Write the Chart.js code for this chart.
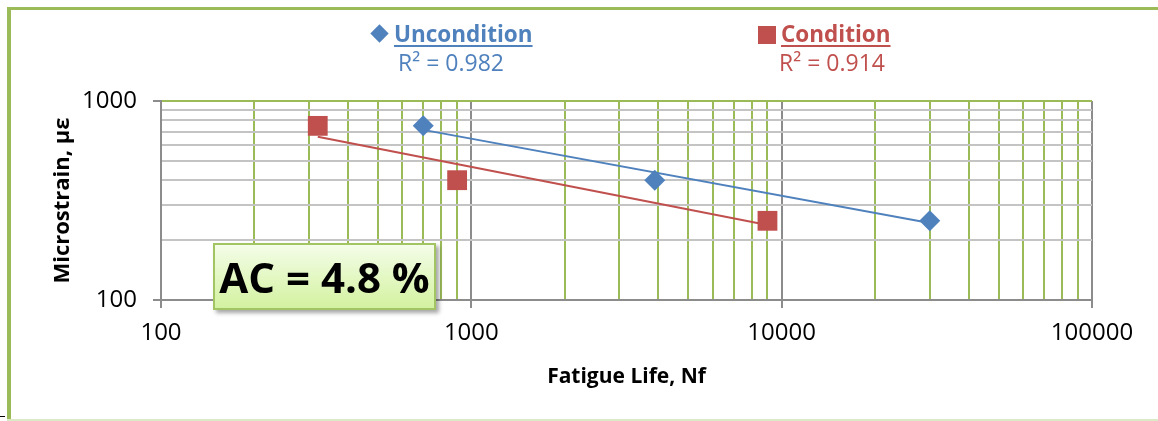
<!DOCTYPE html>
<html><head><meta charset="utf-8">
<script src="https://cdn.jsdelivr.net/npm/chart.js@4.4.1/dist/chart.umd.min.js"></script>
<style>
html,body{margin:0;padding:0;background:#fff;}
#wrap{position:relative;width:1158px;height:421px;overflow:hidden;font-family:"Open Sans",sans-serif;}
#c{position:absolute;left:0;top:0;}
.fr{position:absolute;background:#9bbb59;}
.txt{position:absolute;white-space:nowrap;line-height:1;}
.lgt{font-weight:bold;font-size:22.5px;text-decoration:underline;text-decoration-thickness:2px;text-underline-offset:3px;}
.r2{font-size:23px;}
#ac{position:absolute;left:213px;top:243px;width:219px;height:63px;border:2px solid #a3c463;
 background:linear-gradient(#f4fde8,#d3f2a0);box-shadow:3px 3px 4px rgba(0,0,0,0.35);
 display:flex;align-items:center;justify-content:center;font-weight:bold;font-size:42px;line-height:1;color:#000;}
</style></head>
<body><div id="wrap">
<canvas id="c" width="1158" height="421"></canvas>
<div class="fr" style="left:7px;top:7px;width:1151px;height:3px;"></div>
<div class="fr" style="left:7px;top:7px;width:4px;height:414px;"></div>
<div style="position:absolute;left:7px;top:419px;width:1151px;height:2px;background:#dbe9c6;"></div>
<div style="position:absolute;left:0;top:416px;width:5px;height:1px;background:#000;"></div>
<div style="position:absolute;left:373px;top:27px;width:13px;height:13px;background:#4f81bd;transform:rotate(45deg);"></div>
<div class="txt lgt" style="left:394px;top:23px;color:#4f81bd;">Uncondition</div>
<div class="txt r2" style="left:398px;top:51px;color:#4f81bd;">R² = 0.982</div>
<div style="position:absolute;left:758px;top:26px;width:18px;height:18px;background:#c0504d;"></div>
<div class="txt lgt" style="left:781px;top:23px;color:#c0504d;">Condition</div>
<div class="txt r2" style="left:779px;top:51px;color:#c0504d;">R² = 0.914</div>
<div id="ac">AC = 4.8 %</div>
</div>
<script>
const uncondLife = [700, 3900, 30000];
const uncondStrain = [750, 400, 250];
const condLife = [320, 900, 9000];
const condStrain = [750, 400, 250];
const uncondTrendLife = [700, 30000];
const uncondTrendStrain = [716, 244];
const condTrendLife = [320, 9000];
const condTrendStrain = [661, 238];
const xMajorTicks = [100, 1000, 10000, 100000];
const xTickLabels = ['100', '1000', '10000', '100000'];
const xMinorTicks = [200,300,400,500,600,700,800,900,2000,3000,4000,5000,6000,7000,8000,9000,20000,30000,40000,50000,60000,70000,80000,90000];
const yMajorTicks = [100, 1000];
const yTickLabels = ['100', '1000'];
const yMinorTicks = [200,300,400,500,600,700,800,900];

const BLUE = '#4f81bd', RED = '#c0504d', GREEN = '#9bbb59', AXIS = '#8c8c8c', HGRID = '#c4c4c4';
const pts = (xs, ys) => xs.map((x, i) => ({x: x, y: ys[i]}));
const tickObjs = (maj, min) => maj.concat(min).sort((a,b)=>a-b).map(v => ({value: v, major: maj.includes(v)}));

new Chart(document.getElementById('c'), {
  type: 'scatter',
  data: {datasets: [
    {label: 'Uncondition', data: pts(uncondLife, uncondStrain), pointStyle: 'rectRot', pointRadius: 10.5, pointHoverRadius: 10.5,
     backgroundColor: BLUE, borderColor: BLUE, borderWidth: 0, showLine: false},
    {label: 'Condition', data: pts(condLife, condStrain), pointStyle: 'rect', pointRadius: 14, pointHoverRadius: 14,
     backgroundColor: RED, borderColor: RED, borderWidth: 0, showLine: false},
    {label: 'uTrend', data: pts(uncondTrendLife, uncondTrendStrain), showLine: true, pointRadius: 0, borderColor: BLUE, borderWidth: 2},
    {label: 'cTrend', data: pts(condTrendLife, condTrendStrain), showLine: true, pointRadius: 0, borderColor: RED, borderWidth: 2}
  ]},
  options: {
    responsive: false, animation: false, events: [],
    layout: {padding: {top: 101, right: 66, bottom: 0, left: 0}},
    plugins: {legend: {display: false}, tooltip: {enabled: false}},
    scales: {
      x: {
        type: 'logarithmic', min: 100, max: 100000,
        afterBuildTicks: s => { s.ticks = tickObjs(xMajorTicks, xMinorTicks); },
        afterFit: s => { s.height = 121; },
        border: {color: AXIS, width: 2},
        grid: {
          color: c => xMajorTicks.includes(c.tick.value) ? AXIS : GREEN,
          lineWidth: 2, tickLength: 8, tickWidth: 2,
          tickColor: c => xMajorTicks.includes(c.tick.value) ? AXIS : 'rgba(0,0,0,0)'
        },
        ticks: {
          autoSkip: false, maxRotation: 0, padding: 11, color: '#000',
          font: {family: 'Open Sans', size: 24},
          callback: v => { const i = xMajorTicks.indexOf(v); return i >= 0 ? xTickLabels[i] : ''; }
        },
        title: {display: true, text: 'Fatigue Life, Nf', color: '#000',
          font: {family: 'Open Sans', size: 21, weight: 'bold'}, padding: {top: 0, bottom: 31}}
      },
      y: {
        type: 'logarithmic', min: 100, max: 1000,
        afterBuildTicks: s => { s.ticks = tickObjs(yMajorTicks, yMinorTicks); },
        afterFit: s => { s.width = 161; },
        border: {color: AXIS, width: 2},
        grid: {
          color: c => c.tick.value === 1000 ? GREEN : (c.tick.value === 100 ? AXIS : HGRID),
          lineWidth: 2, tickLength: 8, tickWidth: 2,
          tickColor: c => yMajorTicks.includes(c.tick.value) ? AXIS : 'rgba(0,0,0,0)'
        },
        ticks: {
          autoSkip: false, padding: 16, color: '#000',
          font: {family: 'Open Sans', size: 24},
          callback: v => { const i = yMajorTicks.indexOf(v); return i >= 0 ? yTickLabels[i] : ''; }
        },
        title: {display: true, text: 'Microstrain, µε', color: '#000',
          font: {family: 'Open Sans', size: 22, weight: 'bold'}, padding: {top: 50, bottom: 0}}
      }
    }
  }
});
</script>
</body></html>
